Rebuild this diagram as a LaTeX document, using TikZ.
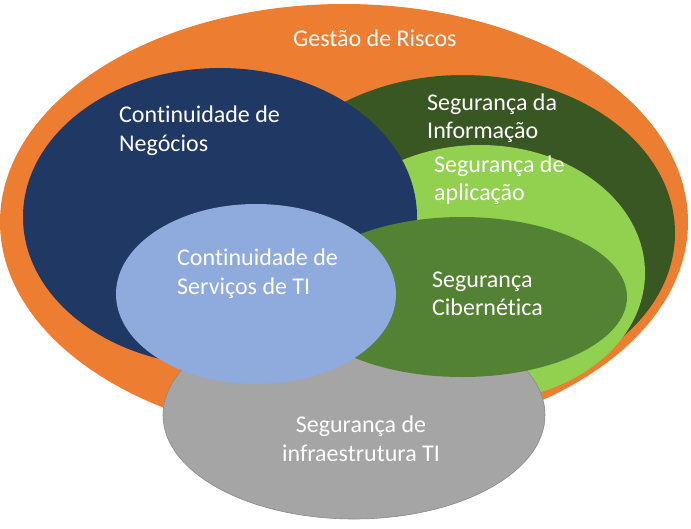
\documentclass[tikz,border=0pt]{standalone}
\usepackage{fontspec}
\setmainfont{Carlito}[Ligatures={NoCommon}]
\definecolor{cOrange}{HTML}{ED7D31}
\definecolor{cDarkBlue}{HTML}{203864}
\definecolor{cDarkGreen}{HTML}{385723}
\definecolor{cLightGreen}{HTML}{92D050}
\definecolor{cMidGreen}{HTML}{548235}
\definecolor{cLightBlue}{HTML}{8FAADC}
\definecolor{cGray}{HTML}{A5A5A5}
\definecolor{cGrayLine}{HTML}{8A8A8A}
\begin{document}
\begin{tikzpicture}[x=1pt,y=-1pt,
  lbl/.style={text=white, font=\fontsize{24}{29}\selectfont, inner sep=0pt, anchor=base west},
  lblc/.style={lbl, anchor=base}]
\useasboundingbox (0,0) rectangle (691,528);
% shapes
\fill[cOrange] (344,222) ellipse [x radius=344pt, y radius=218pt];
\fill[cDarkGreen] (463,233) ellipse [x radius=212pt, y radius=158pt];
\fill[cLightGreen] (480,273) ellipse [x radius=165pt, y radius=128pt];
\fill[cDarkBlue] (220,217) ellipse [x radius=197pt, y radius=149pt];
\filldraw[fill=cGray, draw=cGrayLine, line width=0.6pt] (354,415) ellipse [x radius=191pt, y radius=104pt];
\fill[cMidGreen] (462,297) ellipse [x radius=165pt, y radius=80pt];
\fill[cLightBlue] (256,294) ellipse [x radius=140pt, y radius=90pt];
% labels
\node[lbl] (gr) at (293,46) {Gestão de Riscos};
\node[lbl] (cn1) at (119,122) {Continuidade de};
\node[lbl] (cn2) at (119,151) {Negócios};
\node[lbl] (si1) at (427,110) {Segurança da};
\node[lbl] (si2) at (427,138) {Informação};
\node[lbl] (sa1) at (434,172) {Segurança de};
\node[lbl] (sa2) at (434,200) {aplicação};
\node[lbl] (sc1) at (432,287) {Segurança};
\node[lbl] (sc2) at (432,315) {Cibernética};
\node[lbl] (cs1) at (177,265) {Continuidade de};
\node[lbl] (cs2) at (177,294) {Serviços de TI};
\node[lblc] (in1) at (361,432) {Segurança de};
\node[lblc] (in2) at (361,461) {infraestrutura TI};
\end{tikzpicture}
\end{document}
